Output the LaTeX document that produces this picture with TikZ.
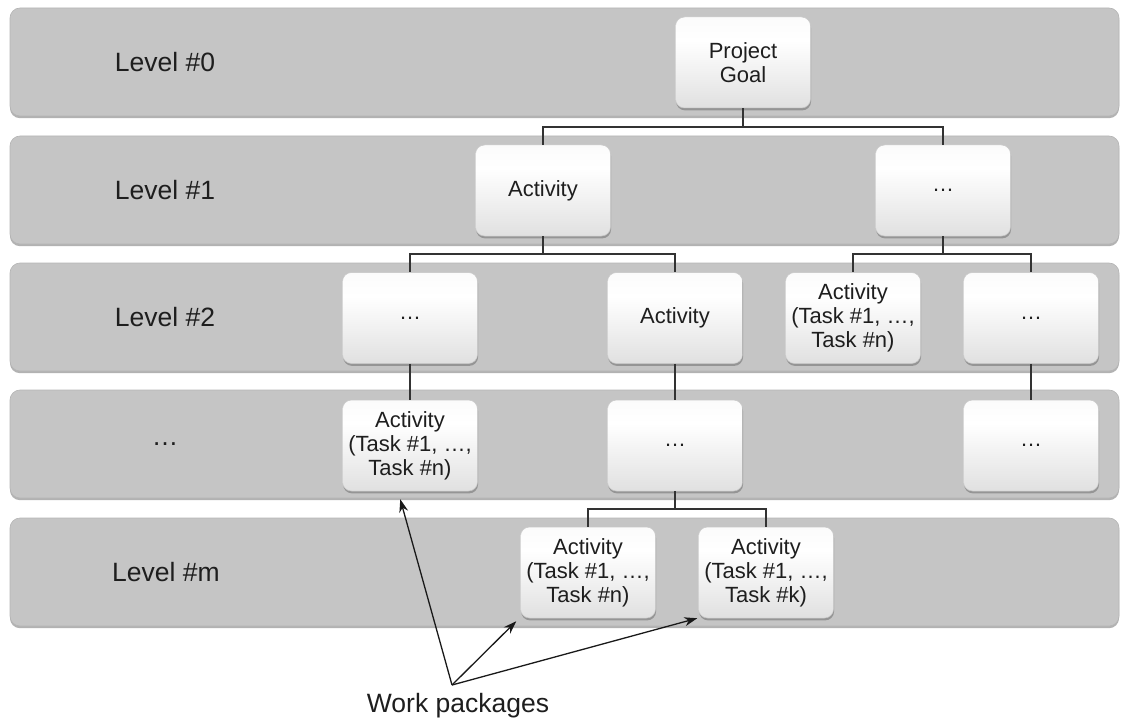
\documentclass[tikz,border=0pt]{standalone}
\usepackage{fontspec}
\setmainfont{Liberation Sans}
\usetikzlibrary{arrows.meta,shadows,calc}

\definecolor{bandgray}{HTML}{C5C5C5}
\definecolor{bandedge}{HTML}{B4B4B4}
\definecolor{linegray}{HTML}{333333}
\definecolor{txt}{HTML}{1E1E1E}

\pgfdeclareverticalshading{boxshade}{100bp}{%
  color(0bp)=(black!19); color(22bp)=(black!13); color(62bp)=(white);
  color(88bp)=(black!3); color(100bp)=(black!7)}

\tikzset{
  band/.style={fill=bandgray, draw=bandedge, line width=0.6pt,
    rounded corners=10pt, minimum width=1109pt, minimum height=108pt,
    inner sep=0pt,
    drop shadow={shadow xshift=0pt, shadow yshift=-2.2pt, opacity=0.55, fill=black!55}},
  levellabel/.style={text=txt, font=\fontsize{26.5}{30}\selectfont},
  wbox/.style={shading=boxshade, draw=black!22, line width=0.5pt,
    rounded corners=9pt, minimum width=135pt, minimum height=91pt,
    inner sep=0pt, align=center, text=txt,
    font=\fontsize{22}{24}\selectfont,
    drop shadow={shadow xshift=0.6pt, shadow yshift=-2.4pt, opacity=0.5, fill=black!60}},
  conn/.style={draw=linegray, line width=1.6pt},
  pointer/.style={draw=black!90, line width=1.3pt,
    -{Stealth[length=13pt,width=9pt]}},
}

\begin{document}
\begin{tikzpicture}[x=1pt, y=-1pt]
\useasboundingbox (0,0) rectangle (1121,722);

% level bands
\node[band] (b0) at (564.5, 62) {};
\node[band] (b1) at (564.5, 190) {};
\node[band] (b2) at (564.5, 317) {};
\node[band] (b3) at (564.5, 444) {};
\node[band] (b4) at (564.5, 572) {};

% level names
\node[levellabel] (n0) at (165, 62) {Level \#0};
\node[levellabel] (n1) at (165, 190) {Level \#1};
\node[levellabel] (n2) at (165, 317) {Level \#2};
\node[levellabel] (n3) at (165, 444) {\dots};
\node[levellabel] (n4) at (166, 572) {Level \#m};

% breakdown boxes
\node[wbox] (pg)  at (743, 62.5)  {Project\\Goal};
\node[wbox] (a1)  at (543, 190.5) {Activity};
\node[wbox] (d1)  at (943, 190.5) {…};

\node[wbox] (l2a) at (410, 318) {…};
\node[wbox] (l2b) at (675, 318) {Activity};
\node[wbox] (l2c) at (853, 318) {Activity\\(Task \#1, …,\\Task \#n)};
\node[wbox] (l2d) at (1031, 318) {…};

\node[wbox] (l3a) at (410, 445.5) {Activity\\(Task \#1, …,\\Task \#n)};
\node[wbox] (l3b) at (675, 445.5) {…};
\node[wbox] (l3c) at (1031, 445.5) {…};

\node[wbox] (l4a) at (588, 572.5) {Activity\\(Task \#1, …,\\Task \#n)};
\node[wbox] (l4b) at (766, 572.5) {Activity\\(Task \#1, …,\\Task \#k)};

% tree connectors
\draw[conn] (pg.south) -- ++(0,19) -| (a1.north);
\draw[conn] (pg.south) -- ++(0,19) -| (d1.north);
\draw[conn] (a1.south) -- ++(0,18) -| (l2a.north);
\draw[conn] (a1.south) -- ++(0,18) -| (l2b.north);
\draw[conn] (d1.south) -- ++(0,18) -| (l2c.north);
\draw[conn] (d1.south) -- ++(0,18) -| (l2d.north);
\draw[conn] (l2a.south) -- (l3a.north);
\draw[conn] (l2b.south) -- (l3b.north);
\draw[conn] (l2d.south) -- (l3c.north);
\draw[conn] (l3b.south) -- ++(0,18) -| (l4a.north);
\draw[conn] (l3b.south) -- ++(0,18) -| (l4b.north);

% work packages callout
\node[levellabel] (wp) at (458, 706) {Work packages};
\coordinate (o) at (452, 685);
\draw[pointer] (o) -- ($(l3a.south west)+(58,8)$);
\draw[pointer] (o) -- ($(l4a.south west)+(-4,3)$);
\draw[pointer] (o) -- ($(l4b.south west)+(-1,0)$);
\end{tikzpicture}
\end{document}
